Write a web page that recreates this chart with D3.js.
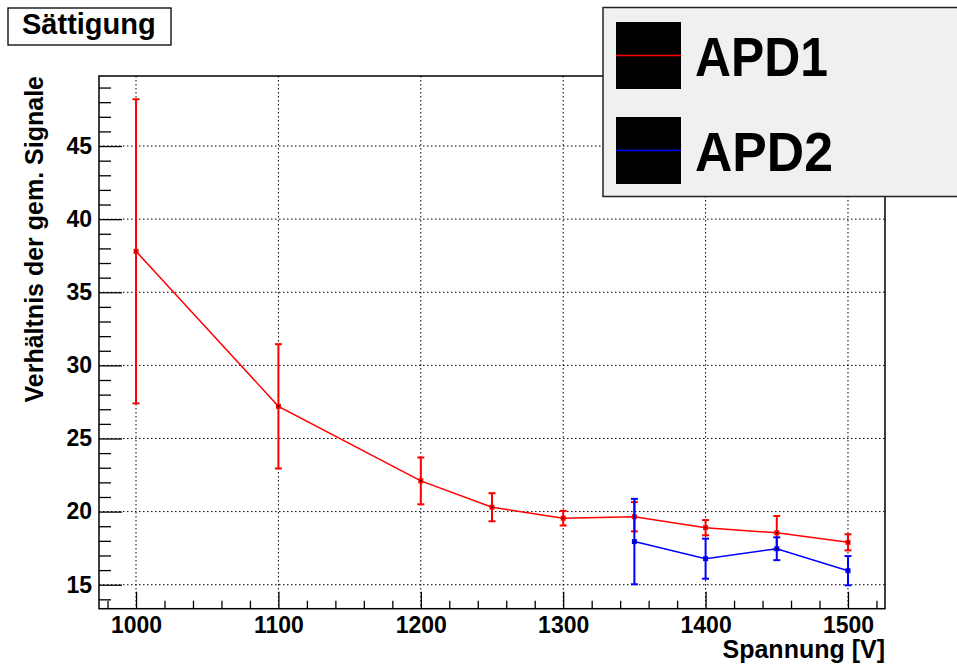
<!DOCTYPE html>
<html>
<head>
<meta charset="utf-8">
<script src="https://cdn.jsdelivr.net/npm/d3@7"></script>
<style>
  body { margin: 0; background: #fff; }
  svg { display: block; font-family: "Liberation Sans", Arial, Helvetica, sans-serif; font-weight: bold; }
  .grid line { stroke: #000; stroke-width: 1; stroke-dasharray: 1.5,2.5; }
  .axis line { stroke: #000; stroke-width: 1.3; }
  .axis path { display: none; }
</style>
</head>
<body>
<div id="chart"></div>
<script>
// values
const voltages1 = [1000, 1100, 1200, 1250, 1300, 1350, 1400, 1450, 1500];
const ratio1 = [37.8, 27.2, 22.1, 20.3, 19.55, 19.65, 18.9, 18.55, 17.9];
const err1 = [10.4, 4.25, 1.6, 0.96, 0.5, 1.0, 0.52, 1.15, 0.55];

const voltages2 = [1350, 1400, 1450, 1500];
const ratio2 = [17.95, 16.78, 17.46, 15.96];
const err2 = [2.92, 1.37, 0.78, 1.0];

const seriesNames = ["APD1", "APD2"];
const seriesColors = ["#ff0000", "#0000ff"];

const xMajorTicks = [1000, 1100, 1200, 1300, 1400, 1500];
const yMajorTicks = [15, 20, 25, 30, 35, 40, 45];

function buildSeries() {
  return [
    voltages1.map((v, i) => ({ x: v, y: ratio1[i], e: err1[i] })),
    voltages2.map((v, i) => ({ x: v, y: ratio2[i], e: err2[i] }))
  ];
}

function renderChart() {
  const width = 957;
  const height = 666;
  const frame = { left: 99, top: 76, right: 885, bottom: 608.7 };

  const svg = d3.select("#chart").append("svg")
    .attr("width", width)
    .attr("height", height);

  const x = d3.scaleLinear().domain([974, 1526]).range([frame.left, frame.right]);
  const y = d3.scaleLinear().domain([13.36, 49.79]).range([frame.bottom, frame.top]);

  const xMinor = d3.range(980, 1521, 20).filter(v => !xMajorTicks.includes(v));
  const yMinor = d3.range(14, 50, 1).filter(v => !yMajorTicks.includes(v));

  // grid
  const grid = svg.append("g").attr("class", "grid");
  grid.selectAll("line.gx")
    .data(xMajorTicks)
    .join("line")
    .attr("class", "gx")
    .attr("x1", d => x(d)).attr("x2", d => x(d))
    .attr("y1", frame.top).attr("y2", frame.bottom);
  grid.selectAll("line.gy")
    .data(yMajorTicks)
    .join("line")
    .attr("class", "gy")
    .attr("x1", frame.left).attr("x2", frame.right)
    .attr("y1", d => y(d)).attr("y2", d => y(d));

  // axes with inward ticks
  const xAxis = svg.append("g")
    .attr("class", "axis")
    .attr("transform", `translate(0, ${frame.bottom})`)
    .call(d3.axisBottom(x).tickValues(xMajorTicks).tickSize(-17).tickPadding(8).tickFormat(d3.format("d")));
  xAxis.selectAll("text").attr("font-size", 23).attr("fill", "#000");

  svg.append("g")
    .attr("class", "axis")
    .attr("transform", `translate(0, ${frame.bottom})`)
    .call(d3.axisBottom(x).tickValues(xMinor).tickSize(-8).tickFormat(""));

  const yAxis = svg.append("g")
    .attr("class", "axis")
    .attr("transform", `translate(${frame.left}, 0)`)
    .call(d3.axisLeft(y).tickValues(yMajorTicks).tickSize(-23).tickPadding(7).tickFormat(d3.format("d")));
  yAxis.selectAll("text").attr("font-size", 23).attr("fill", "#000");

  svg.append("g")
    .attr("class", "axis")
    .attr("transform", `translate(${frame.left}, 0)`)
    .call(d3.axisLeft(y).tickValues(yMinor).tickSize(-12).tickFormat(""));

  svg.selectAll(".axis .tick text").attr("font-family", null).attr("font-weight", "bold");

  // frame
  svg.append("rect")
    .attr("x", frame.left).attr("y", frame.top)
    .attr("width", frame.right - frame.left)
    .attr("height", frame.bottom - frame.top)
    .attr("fill", "none")
    .attr("stroke", "#000")
    .attr("stroke-width", 1.5);

  // data
  const series = buildSeries();
  const line = d3.line().x(d => x(d.x)).y(d => y(d.y));

  series.forEach((points, i) => {
    const color = seriesColors[i];
    const g = svg.append("g");

    g.append("path")
      .datum(points)
      .attr("d", line)
      .attr("fill", "none")
      .attr("stroke", color)
      .attr("stroke-width", 1.5);

    const bars = g.selectAll("g.err")
      .data(points)
      .join("g")
      .attr("class", "err")
      .attr("stroke", color)
      .attr("stroke-width", 2);

    bars.append("line")
      .attr("x1", d => x(d.x)).attr("x2", d => x(d.x))
      .attr("y1", d => y(d.y + d.e)).attr("y2", d => y(d.y - d.e));
    bars.append("line")
      .attr("x1", d => x(d.x) - 3.5).attr("x2", d => x(d.x) + 3.5)
      .attr("y1", d => y(d.y + d.e)).attr("y2", d => y(d.y + d.e));
    bars.append("line")
      .attr("x1", d => x(d.x) - 3.5).attr("x2", d => x(d.x) + 3.5)
      .attr("y1", d => y(d.y - d.e)).attr("y2", d => y(d.y - d.e));

    g.selectAll("rect.marker")
      .data(points)
      .join("rect")
      .attr("class", "marker")
      .attr("x", d => x(d.x) - 2.5)
      .attr("y", d => y(d.y) - 2.5)
      .attr("width", 5).attr("height", 5)
      .attr("fill", color);

    g.selectAll("rect.dot")
      .data(points)
      .join("rect")
      .attr("class", "dot")
      .attr("x", d => x(d.x) - 0.75)
      .attr("y", d => y(d.y) - 0.75)
      .attr("width", 1.5).attr("height", 1.5)
      .attr("fill", "#000");
  });

  // axis titles
  svg.append("text")
    .attr("x", frame.right)
    .attr("y", 658)
    .attr("text-anchor", "end")
    .attr("font-size", 25)
    .text("Spannung [V]");

  svg.append("text")
    .attr("transform", `translate(42.5, ${frame.top}) rotate(-90)`)
    .attr("text-anchor", "end")
    .attr("font-size", 25)
    .text("Verhältnis der gem. Signale");

  // title box
  svg.append("rect")
    .attr("x", 8).attr("y", 8)
    .attr("width", 163).attr("height", 37)
    .attr("fill", "#fff")
    .attr("stroke", "#000")
    .attr("stroke-width", 1.3);
  svg.append("text")
    .attr("x", 22).attr("y", 34)
    .attr("font-size", 29)
    .text("Sättigung");

  // legend
  const legend = svg.append("g");
  legend.append("rect")
    .attr("x", 603).attr("y", 7.5)
    .attr("width", 400).attr("height", 189)
    .attr("fill", "#f0f0f0")
    .attr("stroke", "#222")
    .attr("stroke-width", 1.5);

  const legendRows = [22, 117];
  seriesNames.forEach((name, i) => {
    const top = legendRows[i];
    legend.append("rect")
      .attr("x", 616).attr("y", top)
      .attr("width", 65).attr("height", 67)
      .attr("fill", "#000");
    legend.append("line")
      .attr("x1", 616).attr("x2", 681)
      .attr("y1", top + 33.5).attr("y2", top + 33.5)
      .attr("stroke", seriesColors[i])
      .attr("stroke-width", 1.5);
    legend.append("text")
      .attr("x", 695)
      .attr("y", top + 54)
      .attr("font-size", 56)
      .attr("textLength", i === 0 ? 133 : 138)
      .attr("lengthAdjust", "spacingAndGlyphs")
      .text(name);
  });
}

document.addEventListener("DOMContentLoaded", renderChart);
</script>
</body>
</html>
